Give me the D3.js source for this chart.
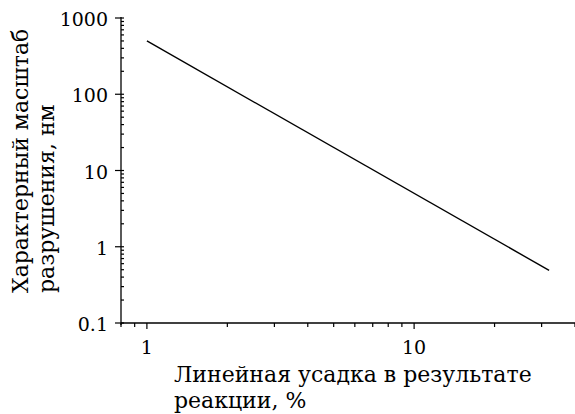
<!DOCTYPE html>
<html><head><meta charset="utf-8">
<script src="https://cdn.jsdelivr.net/npm/d3@7"></script>
<style>body{margin:0;background:#fff}svg{display:block}text{font-family:"DejaVu Serif","Liberation Serif",serif;fill:#000}</style>
</head><body>
<script>
const shrink = [1, 32];          // Линейная усадка, %
const scale = [500, 0.49];       // Характерный масштаб, нм
const xDomain = [0.8, 40];
const yDomain = [0.1, 1000];
const xMajor = [1, 10];
const yMajor = [0.1, 1, 10, 100, 1000];
const xLabelLines = ["Линейная усадка в результате", "реакции, %"];
const yLabelLines = ["Характерный масштаб", "разрушения, нм"];

const W = 575, H = 414;
const svg = d3.select("body").append("svg").attr("width", W).attr("height", H);
const x = d3.scaleLog().domain(xDomain).range([121, 575]);
const y = d3.scaleLog().domain(yDomain).range([323, 18]);

const xMinor = x.ticks().filter(v => !xMajor.includes(v));
const yMinor = y.ticks().filter(v => !yMajor.includes(v));

// X axis
const gx = svg.append("g").attr("transform", "translate(0,323)");
gx.append("line").attr("x1", 121).attr("x2", 575).attr("stroke", "#000").attr("stroke-width", 1.3);
gx.selectAll(".mn").data(xMinor).join("line").attr("x1", d => x(d)).attr("x2", d => x(d))
  .attr("y1", 0).attr("y2", 4).attr("stroke", "#000").attr("stroke-width", 1.2);
gx.selectAll(".mj").data(xMajor).join("line").attr("x1", d => x(d)).attr("x2", d => x(d))
  .attr("y1", 0).attr("y2", 6).attr("stroke", "#000").attr("stroke-width", 1.2);
gx.selectAll("text").data(xMajor).join("text").attr("x", d => x(d)).attr("y", 31)
  .attr("text-anchor", "middle").attr("font-size", 19).text(d => d);

// Y axis
const gy = svg.append("g").attr("transform", "translate(121,0)");
gy.append("line").attr("y1", 17).attr("y2", 325).attr("stroke", "#000").attr("stroke-width", 1.3);
gy.selectAll(".mn").data(yMinor).join("line").attr("y1", d => y(d)).attr("y2", d => y(d))
  .attr("x1", 0).attr("x2", 3).attr("stroke", "#000").attr("stroke-width", 1.2);
gy.selectAll(".mj").data(yMajor).join("line").attr("y1", d => y(d)).attr("y2", d => y(d))
  .attr("x1", -6).attr("x2", 3).attr("stroke", "#000").attr("stroke-width", 1.2);
gy.selectAll("text").data(yMajor).join("text").attr("x", -13).attr("y", d => y(d) + 8)
  .attr("text-anchor", "end").attr("font-size", 19).text(d => d);

// Line
svg.append("path").datum(shrink.map((v, i) => [v, scale[i]]))
  .attr("d", d3.line().x(d => x(d[0])).y(d => y(d[1])))
  .attr("fill", "none").attr("stroke", "#000").attr("stroke-width", 1.4);

// X label
svg.selectAll(".xl").data(xLabelLines).join("text").attr("x", 174).attr("y", (d, i) => 382 + i * 26)
  .attr("font-size", 22).text(d => d);

// Y label
svg.selectAll(".yl").data(yLabelLines).join("text")
  .attr("transform", (d, i) => `translate(${28 + i * 26},293) rotate(-90)`)
  .attr("text-anchor", "start").attr("font-size", 22).text(d => d);
</script>
</body></html>
